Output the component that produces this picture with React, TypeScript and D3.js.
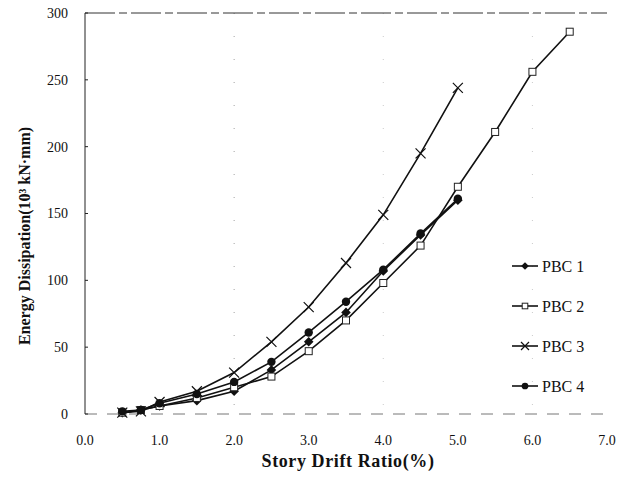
import React from 'react';
import * as d3 from 'd3';

// story drift ratio (%) steps
const drift = [0.5, 0.75, 1.0, 1.5, 2.0, 2.5, 3.0, 3.5, 4.0, 4.5, 5.0, 5.5, 6.0, 6.5];

// energy dissipation (10^3 kN·mm)
const pbc1 = [1, 3, 6, 10, 17, 33, 54, 76, 107, 134, 160];
const pbc2 = [1, 3, 6, 12, 20, 28, 47, 70, 98, 126, 170, 211, 256, 286];
const pbc3 = [1, 2, 9, 17, 31, 54, 80, 113, 149, 195, 244];
const pbc4 = [2, 3, 8, 15, 24, 39, 61, 84, 108, 135, 161];

const seriesNames = ['PBC 1', 'PBC 2', 'PBC 3', 'PBC 4'];
const seriesMarkers = ['diamond', 'square', 'cross', 'circle'];
const seriesValues = [pbc1, pbc2, pbc3, pbc4];

const xTicks = [0, 1, 2, 3, 4, 5, 6, 7];
const yTicks = [0, 50, 100, 150, 200, 250, 300];

const W = 625;
const H = 479;
const margin = { left: 85, right: 18, top: 13, bottom: 65 };
const serif = '"Liberation Serif", "DejaVu Serif", serif';

function Marker({ type, x, y, s = 1 }: { type: string; x: number; y: number; s?: number }) {
  if (type === 'circle') return <circle cx={x} cy={y} r={4.2 * s} fill="#111" />;
  if (type === 'diamond') {
    const d = 4.8 * s;
    return <path d={`M${x},${y - d}L${x + d},${y}L${x},${y + d}L${x - d},${y}Z`} fill="#111" />;
  }
  if (type === 'square') {
    const h = 3.5 * s;
    return <rect x={x - h} y={y - h} width={2 * h} height={2 * h} fill="#fff" stroke="#222" strokeWidth={1} />;
  }
  const d = 5 * s;
  return (
    <path d={`M${x - d},${y - d}L${x + d},${y + d}M${x - d},${y + d}L${x + d},${y - d}`}
      stroke="#111" strokeWidth={1.2} fill="none" />
  );
}

export default function App() {
  const x = d3.scaleLinear().domain([0, 7]).range([margin.left, W - margin.right]);
  const y = d3.scaleLinear().domain([0, 300]).range([H - margin.bottom, margin.top]);

  const line = d3.line<number>()
    .x((_, i) => x(drift[i]))
    .y(d => y(d));

  const legendX = 512;
  const legendY = d3.scalePoint<string>().domain(seriesNames).range([266, 386]);

  return (
    <svg width={W} height={H} style={{ position: 'fixed', left: 0, top: 0, background: '#fff' }}
      fontFamily={serif}>
      {/* sparse dotted grid */}
      {[2, 4, 6].map(v => (
        <line key={v} x1={x(v)} x2={x(v)} y1={y(300)} y2={y(0)}
          stroke="#999" strokeWidth={1} strokeDasharray="1,22" opacity={v === 2 ? 0.9 : 0.5} />
      ))}

      {/* frame */}
      <line x1={x(0)} x2={x(7)} y1={y(300)} y2={y(300)} stroke="#333" strokeWidth={1} strokeDasharray="30,4,8,4" />
      <line x1={x(0)} x2={x(7)} y1={y(0)} y2={y(0)} stroke="#777" strokeWidth={1} strokeDasharray="12,10" />
      <line x1={x(0)} x2={x(0)} y1={y(300)} y2={y(0)} stroke="#222" strokeWidth={1} />

      {/* y axis */}
      {yTicks.map(t => (
        <g key={t}>
          <line x1={x(0)} x2={x(0) + 3} y1={y(t)} y2={y(t)} stroke="#222" />
          <text x={68} y={y(t)} dy="0.35em" textAnchor="end" fontSize={14} fill="#111">{t}</text>
        </g>
      ))}

      {/* x axis */}
      {xTicks.map(t => (
        <text key={t} x={x(t)} y={445} textAnchor="middle" fontSize={14} fill="#111">{t.toFixed(1)}</text>
      ))}

      {/* series */}
      {seriesValues.map((vals, si) => (
        <g key={seriesNames[si]}>
          <path d={line(vals) || ''} fill="none" stroke="#111" strokeWidth={1.6} />
          {vals.map((v, i) => (
            <Marker key={i} type={seriesMarkers[si]} x={x(drift[i])} y={y(v)} />
          ))}
        </g>
      ))}

      {/* legend */}
      {seriesNames.map((name, si) => {
        const ly = legendY(name) as number;
        return (
          <g key={name}>
            <line x1={legendX} x2={legendX + 26} y1={ly} y2={ly} stroke="#111" strokeWidth={1.6} />
            <Marker type={seriesMarkers[si]} x={legendX + 13} y={ly} s={0.8} />
            <text x={legendX + 30} y={ly} dy="0.35em" fontSize={16} fill="#111">{name}</text>
          </g>
        );
      })}

      {/* axis titles */}
      <text x={348} y={467} textAnchor="middle" fontSize={18} fontWeight="bold" fill="#111"
        letterSpacing={0.6}>
        Story Drift Ratio(%)
      </text>
      <text transform="translate(30,236) rotate(-90)" textAnchor="middle"
        fontSize={16} fontWeight="bold" fill="#111">
        Energy Dissipation(10³ kN·mm)
      </text>
    </svg>
  );
}
